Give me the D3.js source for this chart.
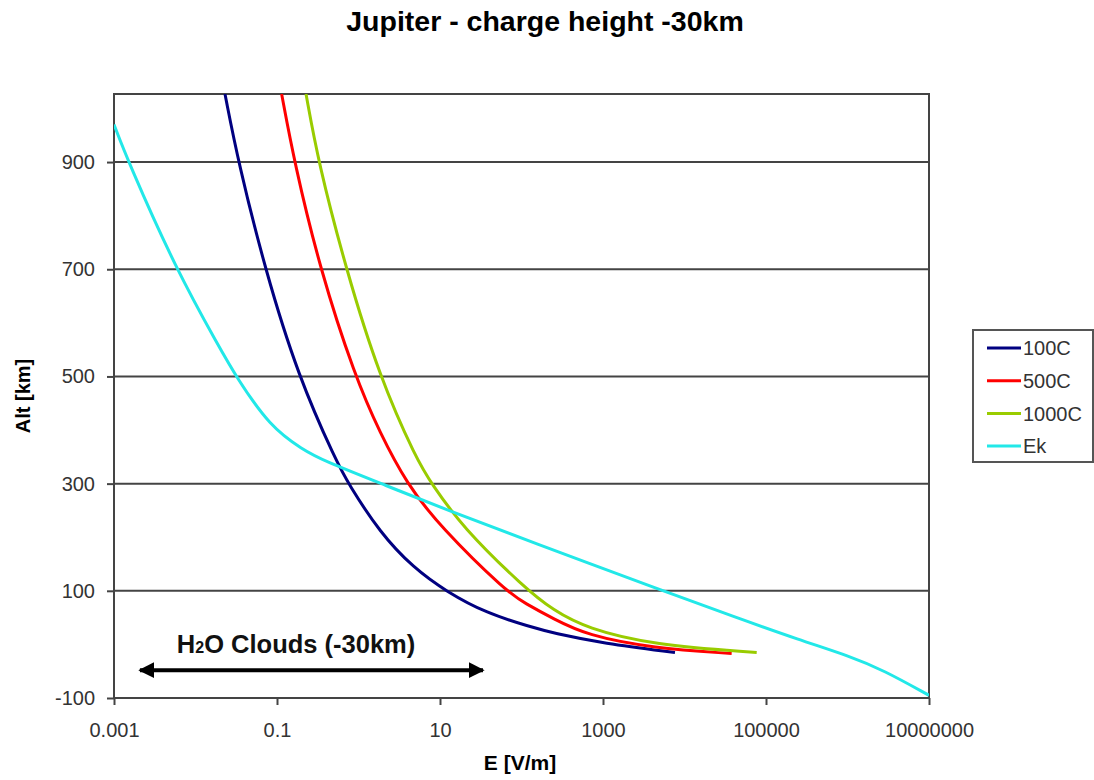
<!DOCTYPE html>
<meta charset="utf-8">
<style>
body { margin: 0; background: #fff; }
svg { font-family: "Liberation Sans", Arial, sans-serif; }
.axis path { display: none; }
.axis line { stroke: #444; stroke-width: 2; }
.axis text { fill: #333; font-size: 20px; }
</style>
<svg width="1094" height="780"></svg>
<script src="https://d3js.org/d3.v7.min.js"></script>
<script>

// series: E [V/m] and altitude [km]
var e100C   = [0.023, 0.0335, 0.0713, 0.182, 0.54, 0.75, 1.84, 4.7, 12.1, 37.4, 127, 245, 1009, 7640];
var alt100C = [1027, 900, 700, 500, 340, 300, 208, 143, 98, 58, 33, 21, 2, -15];

var e500C   = [0.114, 0.163, 0.337, 0.905, 1.84, 3.9, 10, 65.8, 110, 245, 631, 4140, 37900];
var alt500C = [1027, 900, 700, 500, 394, 300, 220, 98, 77, 48, 17, -7, -17];

var e1000C   = [0.227, 0.321, 0.703, 1.8, 5.2, 7.9, 18.5, 110, 245, 631, 4140, 76900];
var alt1000C = [1027, 900, 700, 500, 344, 300, 220, 105, 64, 30, -1, -15];

var eEk   = [0.001, 0.0015, 0.00577, 0.02, 0.0314, 0.082, 0.21, 0.356, 2.22, 12.1, 127, 5450, 39800, 261000, 1070000, 2750000, 10000000];
var altEk = [970, 900, 700, 552, 500, 406, 363, 344, 296, 251, 192, 100, 52, 8, -22, -48, -95];

var seriesNames  = ["100C", "500C", "1000C", "Ek"];
var seriesColors = ["#000080", "#ff0000", "#99cc00", "#22e8e8"];

var xTicks = [0.001, 0.1, 10, 1000, 100000, 10000000];
var xTickLabels = ["0.001", "0.1", "10", "1000", "100000", "10000000"];
var yTicks = [-100, 100, 300, 500, 700, 900];

var svg = d3.select("svg"),
    margin = {top: 94, right: 165, bottom: 82, left: 114},
    width = +svg.attr("width") - margin.left - margin.right,
    height = +svg.attr("height") - margin.top - margin.bottom;

var x = d3.scaleLog().domain([0.001, 10000000]).range([0, width]),
    y = d3.scaleLinear().domain([-100, 1027]).range([height, 0]);

var g = svg.append("g")
    .attr("transform", "translate(" + margin.left + "," + margin.top + ")");

var defs = svg.append("defs");
defs.append("clipPath").attr("id", "plot")
  .append("rect").attr("width", width).attr("height", height);

// horizontal gridlines
g.append("g")
  .selectAll("line")
  .data(yTicks.slice(1))
  .enter().append("line")
    .attr("x1", 0).attr("x2", width)
    .attr("y1", function(d) { return y(d); })
    .attr("y2", function(d) { return y(d); })
    .attr("stroke", "#444")
    .attr("stroke-width", 2);

// frame
g.append("rect")
    .attr("width", width).attr("height", height)
    .attr("fill", "none")
    .attr("stroke", "#444")
    .attr("stroke-width", 2);

g.append("g")
    .attr("class", "axis")
    .call(d3.axisLeft(y).tickValues(yTicks).tickSize(7).tickPadding(12)
      .tickFormat(function(d) { return String(d); }));

g.append("g")
    .attr("class", "axis")
    .attr("transform", "translate(0," + height + ")")
    .call(d3.axisBottom(x).tickValues(xTicks).tickSize(7).tickPadding(18)
      .tickFormat(function(d, i) { return xTickLabels[i]; }));

// curves
var series = [
  {name: seriesNames[0], e: e100C, alt: alt100C},
  {name: seriesNames[1], e: e500C, alt: alt500C},
  {name: seriesNames[2], e: e1000C, alt: alt1000C},
  {name: seriesNames[3], e: eEk, alt: altEk}
];

var line = d3.line()
    .x(function(d) { return x(d[0]); })
    .y(function(d) { return y(d[1]); })
    .curve(d3.curveBasis);

g.append("g")
    .attr("clip-path", "url(#plot)")
  .selectAll("path")
  .data(series)
  .enter().append("path")
    .attr("fill", "none")
    .attr("stroke", function(d, i) { return seriesColors[i]; })
    .attr("stroke-width", 3)
    .attr("d", function(d) { return line(d.e.map(function(v, i) { return [v, d.alt[i]]; })); });

// clouds annotation
defs.append("marker").attr("id", "head")
    .attr("viewBox", "0 0 10 10").attr("refX", 9).attr("refY", 5)
    .attr("markerWidth", 4).attr("markerHeight", 4)
    .attr("orient", "auto-start-reverse")
  .append("path").attr("d", "M0,0L10,5L0,10Z").attr("fill", "#000");

g.append("line")
    .attr("x1", x(0.00208)).attr("x2", x(33.7))
    .attr("y1", y(-48)).attr("y2", y(-48))
    .attr("stroke", "#000").attr("stroke-width", 4)
    .attr("marker-start", "url(#head)")
    .attr("marker-end", "url(#head)");

var cl = g.append("text")
    .attr("x", x(0.0059)).attr("y", y(-16))
    .attr("font-size", 25.5).attr("font-weight", "bold").attr("fill", "#111");
cl.append("tspan").text("H");
cl.append("tspan").attr("font-size", 16).text("2");
cl.append("tspan").text("O Clouds (-30km)");

// titles
svg.append("text")
    .attr("x", 545).attr("y", 31)
    .attr("text-anchor", "middle")
    .attr("font-size", 28.5).attr("font-weight", "bold")
    .text("Jupiter - charge height -30km");

svg.append("text")
    .attr("x", 520).attr("y", 770)
    .attr("text-anchor", "middle")
    .attr("font-size", 21).attr("font-weight", "bold")
    .text("E [V/m]");

svg.append("text")
    .attr("transform", "translate(30," + (margin.top + height / 2) + ") rotate(-90)")
    .attr("text-anchor", "middle")
    .attr("font-size", 20).attr("font-weight", "bold")
    .text("Alt [km]");

// legend
var legend = svg.append("g").attr("transform", "translate(973,330)");
legend.append("rect")
    .attr("width", 120).attr("height", 132)
    .attr("fill", "#fff").attr("stroke", "#555").attr("stroke-width", 2);

var item = legend.selectAll("g.item")
    .data(seriesNames)
    .enter().append("g")
    .attr("class", "item")
    .attr("transform", function(d, i) { return "translate(0," + (18 + i * 32.7) + ")"; });

item.append("line")
    .attr("x1", 14).attr("x2", 48)
    .attr("stroke", function(d, i) { return seriesColors[i]; })
    .attr("stroke-width", 3);

item.append("text")
    .attr("x", 50).attr("dy", "0.36em")
    .attr("font-size", 20).attr("fill", "#333")
    .text(function(d) { return d; });

</script>
